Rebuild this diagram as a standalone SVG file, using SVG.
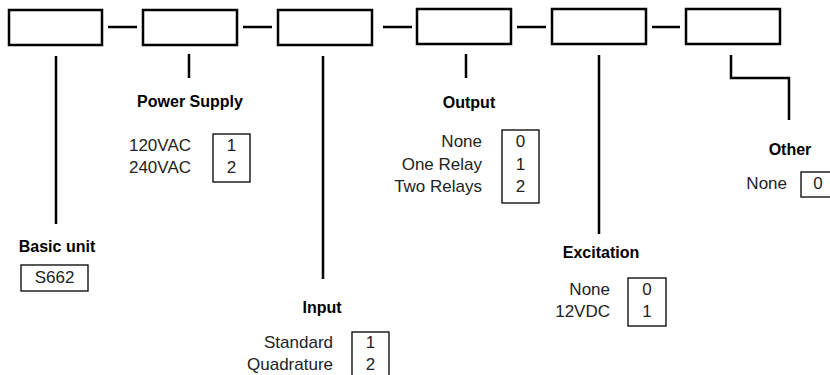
<svg xmlns="http://www.w3.org/2000/svg" width="830" height="375" viewBox="0 0 830 375">
<style>
.top{fill:#fff;stroke:#000;stroke-width:2.5}
.val{fill:none;stroke:#000;stroke-width:1.3}
.ln{fill:none;stroke:#000;stroke-width:2.5}
.lbl{font-family:"Liberation Sans",Arial,sans-serif;font-weight:bold;font-size:16px;text-anchor:middle;fill:#000}
.opt{font-family:"Liberation Sans",Arial,sans-serif;font-size:17px;text-anchor:end;fill:#222}
.num{font-family:"Liberation Sans",Arial,sans-serif;font-size:17px;text-anchor:middle;fill:#222}
</style>
<rect width="830" height="375" fill="#fff"/>
<g id="connectors">
<path class="ln" d="M108 27H137M243 27H272M383 27H412M517 27H546M652 27H680"/>
<path class="ln" d="M56 56V224M189 54V78M323 56V279M466 54V78M599 55V234M731 55V78H789V120"/>
</g>
<g id="box1"><rect class="top" x="9" y="10" width="93" height="35"/></g>
<g id="box2"><rect class="top" x="143" y="10" width="94" height="35"/></g>
<g id="box3"><rect class="top" x="278" y="10" width="94" height="35"/></g>
<g id="box4"><rect class="top" x="417" y="9" width="94" height="35"/></g>
<g id="box5"><rect class="top" x="552" y="9" width="94" height="35"/></g>
<g id="box6"><rect class="top" x="686" y="9" width="94" height="35"/></g>
<g id="basic-unit">
<text class="lbl" x="57" y="252">Basic unit</text>
<rect class="val" x="21" y="265" width="67" height="26"/>
<text class="num" x="54.5" y="283">S662</text>
</g>
<g id="power-supply">
<text class="lbl" x="190" y="107">Power Supply</text>
<text class="opt" x="191" y="151">120VAC</text>
<text class="opt" x="191" y="173">240VAC</text>
<rect class="val" x="213" y="134" width="37" height="48"/>
<text class="num" x="231.5" y="151">1</text>
<text class="num" x="231.5" y="173">2</text>
</g>
<g id="input">
<text class="lbl" x="322" y="313">Input</text>
<text class="opt" x="333" y="348">Standard</text>
<text class="opt" x="333" y="370">Quadrature</text>
<rect class="val" x="352" y="332" width="37" height="50"/>
<text class="num" x="370.5" y="348">1</text>
<text class="num" x="370.5" y="370">2</text>
</g>
<g id="output">
<text class="lbl" x="469" y="108">Output</text>
<text class="opt" x="482" y="147">None</text>
<text class="opt" x="482" y="170">One Relay</text>
<text class="opt" x="482" y="192">Two Relays</text>
<rect class="val" x="502" y="130" width="37" height="73"/>
<text class="num" x="520.5" y="147">0</text>
<text class="num" x="520.5" y="170">1</text>
<text class="num" x="520.5" y="192">2</text>
</g>
<g id="excitation">
<text class="lbl" x="601" y="258">Excitation</text>
<text class="opt" x="610" y="295">None</text>
<text class="opt" x="610" y="317">12VDC</text>
<rect class="val" x="628" y="278" width="38" height="48"/>
<text class="num" x="647" y="295">0</text>
<text class="num" x="647" y="317">1</text>
</g>
<g id="other">
<text class="lbl" x="790" y="155">Other</text>
<text class="opt" x="787" y="189">None</text>
<rect class="val" x="801" y="172" width="37" height="25"/>
<text class="num" x="818" y="189">0</text>
</g>
</svg>
